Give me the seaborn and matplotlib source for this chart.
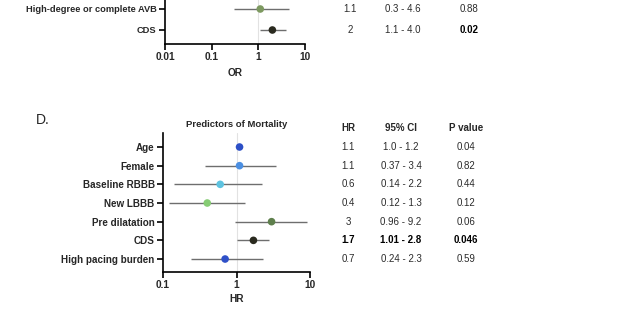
import matplotlib
matplotlib.use("Agg")
import matplotlib.pyplot as plt
import matplotlib.transforms as mtrans
import seaborn as sns
import pandas as pd
import numpy as np

sns.set_style("white")
plt.rcParams['font.family'] = ['Liberation Sans', 'DejaVu Sans']

# ---- Panel C (partially visible) ----
c_labels = ["High-degree or complete AVB", "CDS"]
c_or = [1.1, 2.0]
c_lo = [0.3, 1.1]
c_hi = [4.6, 4.0]
c_or_txt = ["1.1", "2"]
c_ci_txt = ["0.3 - 4.6", "1.1 - 4.0"]
c_p_txt = ["0.88", "0.02"]
c_colors = ["#7d9960", "#2a2a1f"]
c_ticks = [0.01, 0.1, 1, 10]
c_ticklabels = ["0.01", "0.1", "1", "10"]

# ---- Panel D ----
d_labels = ["Age", "Female", "Baseline RBBB", "New LBBB", "Pre dilatation", "CDS",
            "High pacing burden"]
d_hr = [1.1, 1.1, 0.6, 0.4, 3.0, 1.7, 0.7]
d_lo = [1.0, 0.37, 0.14, 0.12, 0.96, 1.01, 0.24]
d_hi = [1.2, 3.4, 2.2, 1.3, 9.2, 2.8, 2.3]
d_hr_txt = ["1.1", "1.1", "0.6", "0.4", "3", "1.7", "0.7"]
d_ci_txt = ["1.0 - 1.2", "0.37 - 3.4", "0.14 - 2.2", "0.12 - 1.3", "0.96 - 9.2",
            "1.01 - 2.8", "0.24 - 2.3"]
d_p_txt = ["0.04", "0.82", "0.44", "0.12", "0.06", "0.046", "0.59"]
d_bold = [False, False, False, False, False, True, False]
d_colors = ["#2c4fc6", "#4b8fe2", "#5ec3e0", "#86cc74", "#5e7f4c", "#2a2a1f", "#2f50c8"]
d_ticks = [0.1, 1, 10]
d_ticklabels = ["0.1", "1", "10"]

W, H = 619, 324
fig = plt.figure(figsize=(W / 100, H / 100), dpi=100)
TXT = "#2b2b2b"


def px_axes(x0, x1, ytop, ybot):
    return fig.add_axes([x0 / W, 1 - ybot / H, (x1 - x0) / W, (ybot - ytop) / H])


def style_axes(ax, labels, ticks, ticklabels, xlim, ylim, lfs):
    ax.set_xscale("log")
    ax.set_xlim(*xlim)
    ax.set_ylim(*ylim)
    ax.set_yticks(range(len(labels)))
    ax.set_yticklabels(labels, fontsize=lfs, fontweight="bold")
    ax.set_xticks(ticks)
    ax.set_xticklabels(ticklabels, fontsize=7.3, fontweight="bold")
    ax.xaxis.set_minor_locator(matplotlib.ticker.NullLocator())
    for s in ["top", "right"]:
        ax.spines[s].set_visible(False)
    for s in ["left", "bottom"]:
        ax.spines[s].set_linewidth(1.2)
        ax.spines[s].set_color("black")
    ax.tick_params(axis="both", which="major", length=4, width=1.2, color="black",
                   pad=2, bottom=True, left=True)
    ax.grid(False)
    ax.axvline(1, color="#e2e2e2", lw=0.8, zorder=0)


def forest(ax, labels, est, lo, hi, colors):
    df = pd.DataFrame({"label": labels, "est": est, "lo": lo, "hi": hi,
                       "pos": np.arange(len(labels))})
    ax.hlines(df["pos"], df["lo"], df["hi"], color="#6e6e6e", lw=1.0, zorder=1)
    sns.scatterplot(data=df, x="est", y="pos", hue="label", palette=colors,
                    s=30, edgecolor="none", legend=False, ax=ax, zorder=3)
    ax.set_xlabel("")
    ax.set_ylabel("")


# Panel C axes: rows at y=9, 30 px; axis bottom at 44 px
axc = px_axes(165, 305, -10, 44)
forest(axc, c_labels, c_or, c_lo, c_hi, c_colors)
style_axes(axc, c_labels, c_ticks, c_ticklabels, (0.01, 10),
           ((44 - 9) / 21, (-10 - 9) / 21), 6.7)
axc.set_xlabel("OR", fontsize=7.3, fontweight="bold", labelpad=4)

tc = mtrans.blended_transform_factory(fig.transFigure, axc.transData)
for i in range(len(c_labels)):
    axc.text(350 / W, i, c_or_txt[i], transform=tc, ha="center", va="center", fontsize=7, color=TXT)
    axc.text(403 / W, i, c_ci_txt[i], transform=tc, ha="center", va="center", fontsize=7, color=TXT)
    axc.text(469 / W, i, c_p_txt[i], transform=tc, ha="center", va="center", fontsize=7,
             color=TXT if c_labels[i] != "CDS" else "black",
             fontweight="bold" if c_labels[i] == "CDS" else "normal")

# Panel D axes: rows at y=147 + 18.67*i; axis 133..272 px
step = 18.67
axd = px_axes(163, 310, 133, 272)
forest(axd, d_labels, d_hr, d_lo, d_hi, d_colors)
style_axes(axd, d_labels, d_ticks, d_ticklabels, (0.1, 10),
           ((272 - 147) / step, (133 - 147) / step), 7.1)
axd.set_xlabel("HR", fontsize=7.3, fontweight="bold", labelpad=3)
axd.set_title("Predictors of Mortality", fontsize=6.8, fontweight="bold", pad=4)

td = mtrans.blended_transform_factory(fig.transFigure, axd.transData)
hdr_y = (128 - 147) / step
for xp, t in [(348, "HR"), (401, "95% CI"), (466, "P value")]:
    axd.text(xp / W, hdr_y, t, transform=td, ha="center", va="center", fontsize=7,
             fontweight="bold", clip_on=False)
for i in range(len(d_labels)):
    fw = "bold" if d_bold[i] else "normal"
    col = "black" if d_bold[i] else TXT
    axd.text(348 / W, i, d_hr_txt[i], transform=td, ha="center", va="center", fontsize=7, fontweight=fw, color=col)
    axd.text(401 / W, i, d_ci_txt[i], transform=td, ha="center", va="center", fontsize=7, fontweight=fw, color=col)
    axd.text(466 / W, i, d_p_txt[i], transform=td, ha="center", va="center", fontsize=7, fontweight=fw, color=col)

fig.text(36 / W, 1 - 120 / H, "D.", fontsize=10, ha="left", va="center")

fig.savefig("out.png", dpi=100)
